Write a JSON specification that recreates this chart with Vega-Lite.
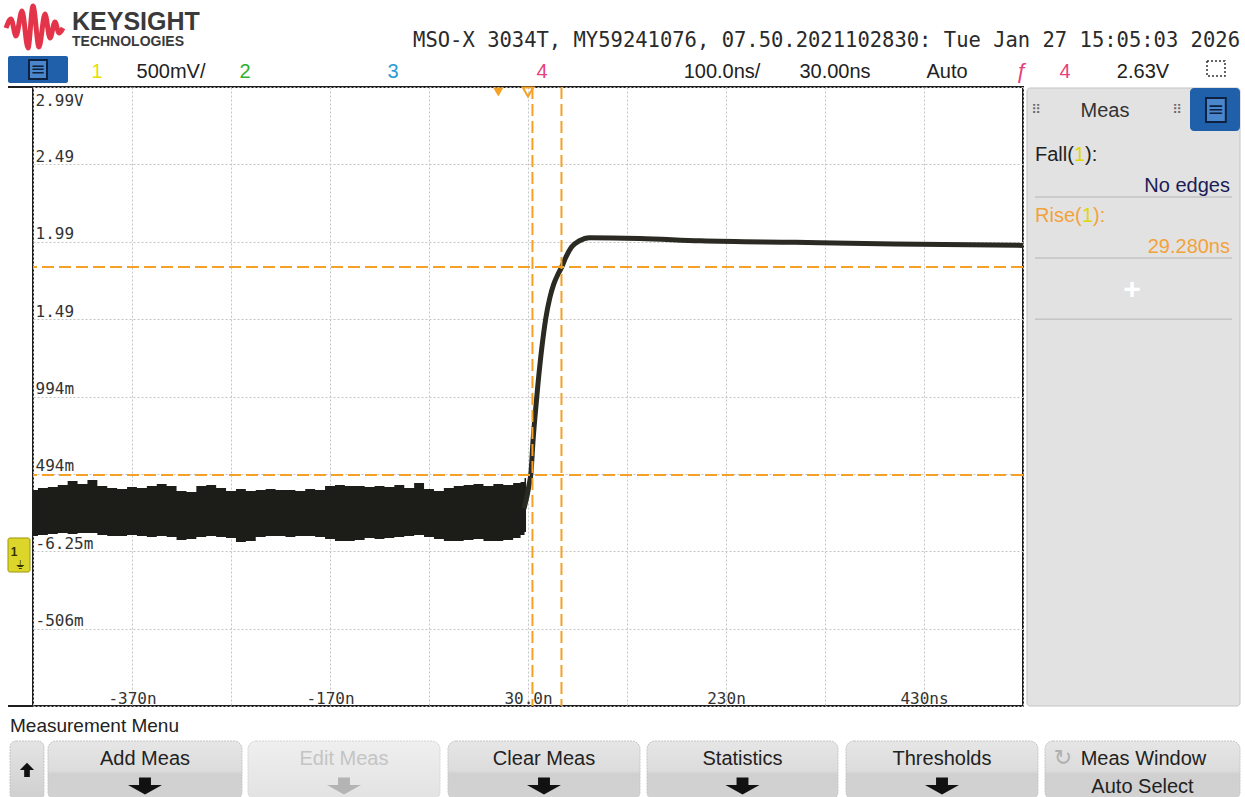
{
"$schema": "https://vega.github.io/schema/vega-lite/v6.json",
"width": 990,
"height": 619,
"autosize": {"type": "none"},
"padding": {"left": 33, "top": 87, "right": 222, "bottom": 91},
"background": "#ffffff",
"data": {"values": [{}]},
"datasets": {
"band": [
{"t":-470,"hi":0.390,"lo":0.092},{"t":-460,"hi":0.402,"lo":0.099},{"t":-450,"hi":0.409,"lo":0.105},{"t":-440,"hi":0.422,"lo":0.112},{"t":-430,"hi":0.448,"lo":0.105},{"t":-420,"hi":0.428,"lo":0.112},{"t":-410,"hi":0.454,"lo":0.112},{"t":-400,"hi":0.415,"lo":0.099},{"t":-390,"hi":0.402,"lo":0.092},{"t":-380,"hi":0.396,"lo":0.092},{"t":-370,"hi":0.409,"lo":0.099},{"t":-360,"hi":0.402,"lo":0.092},{"t":-350,"hi":0.415,"lo":0.086},{"t":-340,"hi":0.428,"lo":0.092},{"t":-330,"hi":0.415,"lo":0.086},{"t":-320,"hi":0.383,"lo":0.066},{"t":-310,"hi":0.377,"lo":0.073},{"t":-300,"hi":0.415,"lo":0.086},{"t":-290,"hi":0.422,"lo":0.092},{"t":-280,"hi":0.402,"lo":0.086},{"t":-270,"hi":0.383,"lo":0.079},{"t":-260,"hi":0.396,"lo":0.054},{"t":-250,"hi":0.383,"lo":0.060},{"t":-240,"hi":0.390,"lo":0.086},{"t":-230,"hi":0.396,"lo":0.092},{"t":-220,"hi":0.390,"lo":0.092},{"t":-210,"hi":0.390,"lo":0.086},{"t":-200,"hi":0.383,"lo":0.092},{"t":-190,"hi":0.396,"lo":0.092},{"t":-180,"hi":0.390,"lo":0.086},{"t":-170,"hi":0.415,"lo":0.073},{"t":-160,"hi":0.422,"lo":0.060},{"t":-150,"hi":0.415,"lo":0.060},{"t":-140,"hi":0.415,"lo":0.066},{"t":-130,"hi":0.409,"lo":0.079},{"t":-120,"hi":0.415,"lo":0.073},{"t":-110,"hi":0.409,"lo":0.079},{"t":-100,"hi":0.422,"lo":0.086},{"t":-90,"hi":0.402,"lo":0.092},{"t":-80,"hi":0.435,"lo":0.099},{"t":-70,"hi":0.396,"lo":0.086},{"t":-60,"hi":0.383,"lo":0.073},{"t":-50,"hi":0.402,"lo":0.060},{"t":-40,"hi":0.415,"lo":0.060},{"t":-30,"hi":0.422,"lo":0.066},{"t":-20,"hi":0.428,"lo":0.073},{"t":-10,"hi":0.415,"lo":0.060},{"t":0,"hi":0.428,"lo":0.060},{"t":10,"hi":0.422,"lo":0.066},{"t":20,"hi":0.435,"lo":0.079},{"t":25,"hi":0.441,"lo":0.099},{"t":28,"hi":0.467,"lo":0.118}
],
"trace": [
{"t":26,"v":0.27},{"t":29,"v":0.35},{"t":31,"v":0.42},{"t":33,"v":0.50},{"t":35,"v":0.70},{"t":37,"v":0.86},{"t":40,"v":1.07},{"t":44,"v":1.31},{"t":48,"v":1.50},{"t":52,"v":1.63},{"t":56,"v":1.72},{"t":60,"v":1.78},{"t":64,"v":1.83},{"t":68,"v":1.89},{"t":74,"v":1.96},{"t":82,"v":2.00},{"t":92,"v":2.02},{"t":143,"v":2.015},{"t":204,"v":2.00},{"t":300,"v":1.99},{"t":400,"v":1.98},{"t":530,"v":1.97}
],
"hcur": [{"v":0.4865},{"v":1.8306}],
"vcur": [{"t":34.5},{"t":63.8}],
"logo": [
{"t":-497.27,"v":3.375},{"t":-492.22,"v":3.4332},{"t":-487.17,"v":3.3233},{"t":-481.11,"v":3.4849},{"t":-475.05,"v":3.2458},{"t":-470.0,"v":3.5172},{"t":-463.94,"v":3.2522},{"t":-457.88,"v":3.4655},{"t":-452.83,"v":3.3104},{"t":-447.78,"v":3.4138},{"t":-443.74,"v":3.3427},{"t":-439.70,"v":3.375}
]
},
"config": {
"view": {"stroke": "#1e1e1e", "strokeWidth": 2},
"axis": {"titleOpacity": 0},
"text": {"font": "Liberation Sans", "fontSize": 20, "color": "#222222", "baseline": "alphabetic"}
},
"layer": [
{"data": {"name": "band"},
 "mark": {"type": "area", "interpolate": "step", "color": "#1c1c18"},
 "encoding": {
  "x": {"field": "t", "type": "quantitative",
   "scale": {"domain": [-470, 530], "nice": false, "zero": false},
   "axis": {"title": null, "values": [-470,-370,-270,-170,-70,30,130,230,330,430,530], "grid": true, "gridColor": "#c4c4c4", "gridDash": [2,2], "gridWidth": 1, "ticks": false, "tickSize": 0, "domain": false,
    "labelExpr": "datum.value == -370 ? '-370n' : datum.value == -170 ? '-170n' : datum.value == 30 ? '30.0n' : datum.value == 230 ? '230n' : datum.value == 430 ? '430ns' : ''",
    "labelFont": "DejaVu Sans Mono", "labelFontSize": 16, "labelColor": "#333333", "labelPadding": -8, "labelBaseline": "middle", "labelOverlap": false, "labelFlush": false, "labelBound": false}},
  "y": {"field": "hi", "type": "quantitative",
   "scale": {"domain": [-1.00625, 2.99375], "nice": false, "zero": false},
   "axis": {"title": null, "values": [-1.00625,-0.50625,-0.00625,0.49375,0.99375,1.49375,1.99375,2.49375,2.99375], "grid": true, "gridColor": "#c4c4c4", "gridDash": [2,2], "gridWidth": 1, "ticks": false, "tickSize": 0, "domain": false,
    "labelExpr": "datum.value > 2.9 ? '2.99V' : datum.value > 2.4 ? '2.49' : datum.value > 1.9 ? '1.99' : datum.value > 1.4 ? '1.49' : datum.value > 0.9 ? '994m' : datum.value > 0.4 ? '494m' : datum.value > -0.1 ? '-6.25m' : datum.value > -0.6 ? '-506m' : ''",
    "labelFont": "DejaVu Sans Mono", "labelFontSize": 16, "labelColor": "#333333", "labelAlign": "left", "labelPadding": -2,
    "labelBaseline": {"condition": {"test": "datum.value > 2.9", "value": "top"}, "value": "alphabetic"},
    "labelOffset": {"condition": {"test": "datum.value > 2.9", "value": 5}, "value": -3},
    "labelOverlap": false, "labelFlush": false, "labelBound": false}},
  "y2": {"field": "lo"}
 }},
{"data": {"name": "trace"},
 "mark": {"type": "line", "interpolate": "monotone", "color": "#2a2a22", "strokeWidth": 5},
 "encoding": {"x": {"field": "t", "type": "quantitative"}, "y": {"field": "v", "type": "quantitative"}}},
{"data": {"name": "hcur"},
 "mark": {"type": "rule", "color": "#f4a125", "strokeWidth": 2, "strokeDash": [12, 5]},
 "encoding": {"y": {"field": "v", "type": "quantitative"}}},
{"data": {"name": "vcur"},
 "mark": {"type": "rule", "color": "#f4a125", "strokeWidth": 2, "strokeDash": [12, 5]},
 "encoding": {"x": {"field": "t", "type": "quantitative"}}},
{"mark": {"type": "point", "shape": "triangle-down", "filled": true, "color": "#f4a125", "size": 110, "opacity": 1},
 "encoding": {"x": {"datum": 0}, "y": {"datum": 2.9614}}},
{"mark": {"type": "point", "shape": "triangle-down", "filled": false, "color": "#f4a125", "strokeWidth": 2, "size": 110, "opacity": 1},
 "encoding": {"x": {"datum": 30}, "y": {"datum": 2.9614}}},
{"mark": {"type": "rule", "color": "#1e1e1e", "strokeWidth": 2},
 "encoding": {"x": {"datum": -495.25}, "x2": {"datum": -470}, "y": {"datum": 2.99375}}},
{"mark": {"type": "rule", "color": "#1e1e1e", "strokeWidth": 2},
 "encoding": {"x": {"datum": -495.25}, "x2": {"datum": -470}, "y": {"datum": -1.00625}}},
{"mark": {"type": "rect", "fill": "#dcd62a", "stroke": "#9c950c", "strokeWidth": 1, "cornerRadius": 2},
 "encoding": {"x": {"datum": -495.25}, "x2": {"datum": -473.03}, "y": {"datum": 0.0794}, "y2": {"datum": -0.1404}}},
{"mark": {"type": "text", "text": "1", "fontSize": 12, "fontWeight": "bold", "align": "center", "baseline": "middle", "color": "#333300"},
 "encoding": {"x": {"datum": -489.19}, "y": {"datum": -0.0111}}},
{"mark": {"type": "text", "text": "⏚", "font": "DejaVu Sans", "fontSize": 12, "align": "center", "baseline": "middle", "color": "#333300"},
 "encoding": {"x": {"datum": -483.13}, "y": {"datum": -0.0951}}},

{"data": {"name": "logo"},
 "mark": {"type": "line", "interpolate": "monotone", "color": "#e4344a", "strokeWidth": 5},
 "encoding": {"x": {"field": "t", "type": "quantitative"}, "y": {"field": "v", "type": "quantitative"}}},
{"mark": {"type": "text", "text": "KEYSIGHT", "fontSize": 25, "fontWeight": "bold", "align": "left", "color": "#3a3a3a"},
 "encoding": {"x": {"datum": -430.61}, "y": {"datum": 3.3621}}},
{"mark": {"type": "text", "text": "TECHNOLOGIES", "fontSize": 14, "fontWeight": "bold", "align": "left", "color": "#3a3a3a"},
 "encoding": {"x": {"datum": -430.61}, "y": {"datum": 3.2587}}},
{"mark": {"type": "text", "text": "MSO-X 3034T, MY59241076, 07.50.2021102830: Tue Jan 27 15:05:03 2026", "font": "DejaVu Sans Mono", "fontSize": 20.5, "align": "right", "color": "#2a2a2a"},
 "encoding": {"x": {"datum": 749.19}, "y": {"datum": 3.2523}}},

{"mark": {"type": "rect", "fill": "#2060aa", "cornerRadius": 2},
 "encoding": {"x": {"datum": -495.25}, "x2": {"datum": -434.65}, "y": {"datum": 3.1941}, "y2": {"datum": 3.0196}}},
{"mark": {"type": "rect", "fill": "#4a86cc", "stroke": "#0d2240", "strokeWidth": 2},
 "encoding": {"x": {"datum": -474.04}, "x2": {"datum": -455.86}, "y": {"datum": 3.1682}, "y2": {"datum": 3.0455}}},
{"mark": {"type": "text", "text": "≡", "font": "DejaVu Sans", "fontSize": 18, "align": "center", "baseline": "middle", "color": "#0d2240"},
 "encoding": {"x": {"datum": -464.95}, "y": {"datum": 3.1068}}},
{"mark": {"type": "text", "text": "1", "align": "center", "color": "#e5e000"},
 "encoding": {"x": {"datum": -405.35}, "y": {"datum": 3.0519}}},
{"mark": {"type": "text", "text": "500mV/", "align": "center", "color": "#222222"},
 "encoding": {"x": {"datum": -330.61}, "y": {"datum": 3.0519}}},
{"mark": {"type": "text", "text": "2", "align": "center", "color": "#2fb02f"},
 "encoding": {"x": {"datum": -255.86}, "y": {"datum": 3.0519}}},
{"mark": {"type": "text", "text": "3", "align": "center", "color": "#2a9ad6"},
 "encoding": {"x": {"datum": -106.36}, "y": {"datum": 3.0519}}},
{"mark": {"type": "text", "text": "4", "align": "center", "color": "#e8407c"},
 "encoding": {"x": {"datum": 44.14}, "y": {"datum": 3.0519}}},
{"mark": {"type": "text", "text": "100.0ns/", "align": "center", "color": "#222222"},
 "encoding": {"x": {"datum": 225.96}, "y": {"datum": 3.0519}}},
{"mark": {"type": "text", "text": "30.00ns", "align": "center", "color": "#222222"},
 "encoding": {"x": {"datum": 340.10}, "y": {"datum": 3.0519}}},
{"mark": {"type": "text", "text": "Auto", "align": "center", "color": "#222222"},
 "encoding": {"x": {"datum": 453.23}, "y": {"datum": 3.0519}}},
{"mark": {"type": "text", "text": "ƒ", "align": "center", "color": "#e8407c", "fontSize": 22},
 "encoding": {"x": {"datum": 528.99}, "y": {"datum": 3.0519}}},
{"mark": {"type": "text", "text": "4", "align": "center", "color": "#e8407c"},
 "encoding": {"x": {"datum": 572.42}, "y": {"datum": 3.0519}}},
{"mark": {"type": "text", "text": "2.63V", "align": "center", "color": "#222222"},
 "encoding": {"x": {"datum": 651.21}, "y": {"datum": 3.0519}}},
{"mark": {"type": "rect", "filled": false, "stroke": "#333333", "strokeWidth": 1.5, "strokeDash": [2, 2]},
 "encoding": {"x": {"datum": 715.86}, "x2": {"datum": 734.04}, "y": {"datum": 3.1618}, "y2": {"datum": 3.0648}}},

{"mark": {"type": "rect", "fill": "#e2e2e2", "stroke": "#c4c4c4", "strokeWidth": 1, "cornerRadius": 3},
 "encoding": {"x": {"datum": 534.04}, "x2": {"datum": 749.19}, "y": {"datum": 2.9873}, "y2": {"datum": -1.00625}}},
{"mark": {"type": "rect", "fill": "#2060aa", "cornerRadius": 4},
 "encoding": {"x": {"datum": 698.69}, "x2": {"datum": 749.19}, "y": {"datum": 2.9873}, "y2": {"datum": 2.7094}}},
{"mark": {"type": "rect", "fill": "#4a86cc", "stroke": "#0d2240", "strokeWidth": 2},
 "encoding": {"x": {"datum": 714.85}, "x2": {"datum": 734.85}, "y": {"datum": 2.9227}, "y2": {"datum": 2.7676}}},
{"mark": {"type": "text", "text": "≡", "font": "DejaVu Sans", "fontSize": 20, "align": "center", "baseline": "middle", "color": "#0d2240"},
 "encoding": {"x": {"datum": 724.85}, "y": {"datum": 2.8451}}},
{"mark": {"type": "text", "text": "Meas", "align": "center", "color": "#333333"},
 "encoding": {"x": {"datum": 612.84}, "y": {"datum": 2.7999}}},
{"mark": {"type": "text", "text": "⠿", "font": "DejaVu Sans", "fontSize": 13, "align": "center", "baseline": "middle", "color": "#666666"},
 "encoding": {"x": {"datum": 543.13}, "y": {"datum": 2.8451}}},
{"mark": {"type": "text", "text": "⠿", "font": "DejaVu Sans", "fontSize": 13, "align": "center", "baseline": "middle", "color": "#666666"},
 "encoding": {"x": {"datum": 685.56}, "y": {"datum": 2.8451}}},
{"mark": {"type": "text", "text": "Fall(", "align": "left", "color": "#222222"},
 "encoding": {"x": {"datum": 542.12}, "y": {"datum": 2.5155}}},
{"mark": {"type": "text", "text": "1", "align": "left", "color": "#e0d800"},
 "encoding": {"x": {"datum": 581.52}, "y": {"datum": 2.5155}}},
{"mark": {"type": "text", "text": "):", "align": "left", "color": "#222222"},
 "encoding": {"x": {"datum": 592.64}, "y": {"datum": 2.5155}}},
{"mark": {"type": "text", "text": "No edges", "align": "right", "color": "#1b1b55"},
 "encoding": {"x": {"datum": 739.09}, "y": {"datum": 2.3152}}},
{"mark": {"type": "rule", "color": "#b4b4b4", "strokeWidth": 1},
 "encoding": {"x": {"datum": 542.12}, "x2": {"datum": 741.11}, "y": {"datum": 2.2829}}},
{"mark": {"type": "text", "text": "Rise(", "align": "left", "color": "#f2a23a"},
 "encoding": {"x": {"datum": 542.12}, "y": {"datum": 2.1214}}},
{"mark": {"type": "text", "text": "1", "align": "left", "color": "#e0d800"},
 "encoding": {"x": {"datum": 589.60}, "y": {"datum": 2.1214}}},
{"mark": {"type": "text", "text": "):", "align": "left", "color": "#f2a23a"},
 "encoding": {"x": {"datum": 600.72}, "y": {"datum": 2.1214}}},
{"mark": {"type": "text", "text": "29.280ns", "align": "right", "color": "#f2a23a"},
 "encoding": {"x": {"datum": 739.09}, "y": {"datum": 1.9210}}},
{"mark": {"type": "rule", "color": "#b4b4b4", "strokeWidth": 1},
 "encoding": {"x": {"datum": 542.12}, "x2": {"datum": 741.11}, "y": {"datum": 1.8887}}},
{"mark": {"type": "text", "text": "+", "fontSize": 30, "fontWeight": "bold", "align": "center", "baseline": "middle", "color": "#ffffff"},
 "encoding": {"x": {"datum": 640.10}, "y": {"datum": 1.6820}}},
{"mark": {"type": "rule", "color": "#b4b4b4", "strokeWidth": 1},
 "encoding": {"x": {"datum": 542.12}, "x2": {"datum": 741.11}, "y": {"datum": 1.4938}}},

{"mark": {"type": "text", "text": "Measurement Menu", "fontSize": 19, "align": "left", "color": "#222222"},
 "encoding": {"x": {"datum": -493.23}, "y": {"datum": -1.1743}}},
{"mark": {"type": "rect", "cornerRadius": 6, "stroke": "#c4c4c4", "strokeWidth": 1, "strokeDash": [2, 1],
  "fill": {"gradient": "linear", "x1": 0, "y1": 0, "x2": 0, "y2": 1, "stops": [{"offset": 0, "color": "#e4e4e4"}, {"offset": 1, "color": "#cfcfcf"}]}},
 "encoding": {"x": {"datum": -493.23}, "x2": {"datum": -458.89}, "y": {"datum": -1.2325}, "y2": {"datum": -1.6135}}},
{"mark": {"type": "point", "shape": "M 0 -1 L 1 0 L 0.4 0 L 0.4 1 L -0.4 1 L -0.4 0 L -1 0 Z", "filled": true, "color": "#111111", "size": 200, "opacity": 1},
 "encoding": {"x": {"datum": -476.06}, "y": {"datum": -1.4191}}},
{"mark": {"type": "rect", "cornerRadius": 8, "stroke": "#c4c4c4", "strokeWidth": 1, "strokeDash": [2, 1],
  "fill": {"gradient": "linear", "x1": 0, "y1": 0, "x2": 0, "y2": 1, "stops": [{"offset": 0, "color": "#e6e6e6"}, {"offset": 0.5, "color": "#dcdcdc"}, {"offset": 0.56, "color": "#d0d0d0"}, {"offset": 1, "color": "#d2d2d2"}]}},
 "encoding": {"x": {"datum": -454.85}, "x2": {"datum": -258.89}, "y": {"datum": -1.2325}, "y2": {"datum": -1.6135}}},
{"mark": {"type": "rect", "cornerRadius": 8, "stroke": "#d4d4d4", "strokeWidth": 1, "strokeDash": [2, 1],
  "fill": {"gradient": "linear", "x1": 0, "y1": 0, "x2": 0, "y2": 1, "stops": [{"offset": 0, "color": "#efefef"}, {"offset": 1, "color": "#e2e2e2"}]}},
 "encoding": {"x": {"datum": -252.83}, "x2": {"datum": -58.89}, "y": {"datum": -1.2325}, "y2": {"datum": -1.6135}}},
{"mark": {"type": "rect", "cornerRadius": 8, "stroke": "#c4c4c4", "strokeWidth": 1, "strokeDash": [2, 1],
  "fill": {"gradient": "linear", "x1": 0, "y1": 0, "x2": 0, "y2": 1, "stops": [{"offset": 0, "color": "#e6e6e6"}, {"offset": 0.5, "color": "#dcdcdc"}, {"offset": 0.56, "color": "#d0d0d0"}, {"offset": 1, "color": "#d2d2d2"}]}},
 "encoding": {"x": {"datum": -50.81}, "x2": {"datum": 143.13}, "y": {"datum": -1.2325}, "y2": {"datum": -1.6135}}},
{"mark": {"type": "rect", "cornerRadius": 8, "stroke": "#c4c4c4", "strokeWidth": 1, "strokeDash": [2, 1],
  "fill": {"gradient": "linear", "x1": 0, "y1": 0, "x2": 0, "y2": 1, "stops": [{"offset": 0, "color": "#e6e6e6"}, {"offset": 0.5, "color": "#dcdcdc"}, {"offset": 0.56, "color": "#d0d0d0"}, {"offset": 1, "color": "#d2d2d2"}]}},
 "encoding": {"x": {"datum": 150.20}, "x2": {"datum": 343.13}, "y": {"datum": -1.2325}, "y2": {"datum": -1.6135}}},
{"mark": {"type": "rect", "cornerRadius": 8, "stroke": "#c4c4c4", "strokeWidth": 1, "strokeDash": [2, 1],
  "fill": {"gradient": "linear", "x1": 0, "y1": 0, "x2": 0, "y2": 1, "stops": [{"offset": 0, "color": "#e6e6e6"}, {"offset": 0.5, "color": "#dcdcdc"}, {"offset": 0.56, "color": "#d0d0d0"}, {"offset": 1, "color": "#d2d2d2"}]}},
 "encoding": {"x": {"datum": 351.21}, "x2": {"datum": 545.15}, "y": {"datum": -1.2325}, "y2": {"datum": -1.6135}}},
{"mark": {"type": "rect", "cornerRadius": 8, "stroke": "#c4c4c4", "strokeWidth": 1, "strokeDash": [2, 1],
  "fill": {"gradient": "linear", "x1": 0, "y1": 0, "x2": 0, "y2": 1, "stops": [{"offset": 0, "color": "#e6e6e6"}, {"offset": 0.5, "color": "#dcdcdc"}, {"offset": 0.56, "color": "#d0d0d0"}, {"offset": 1, "color": "#d2d2d2"}]}},
 "encoding": {"x": {"datum": 552.22}, "x2": {"datum": 749.19}, "y": {"datum": -1.2325}, "y2": {"datum": -1.6135}}},
{"mark": {"type": "text", "text": "Add Meas", "align": "center", "color": "#222222"},
 "encoding": {"x": {"datum": -356.87}, "y": {"datum": -1.3868}}},
{"mark": {"type": "text", "text": "Edit Meas", "align": "center", "color": "#c4c4c4"},
 "encoding": {"x": {"datum": -155.86}, "y": {"datum": -1.3868}}},
{"mark": {"type": "text", "text": "Clear Meas", "align": "center", "color": "#222222"},
 "encoding": {"x": {"datum": 46.16}, "y": {"datum": -1.3868}}},
{"mark": {"type": "text", "text": "Statistics", "align": "center", "color": "#222222"},
 "encoding": {"x": {"datum": 246.67}, "y": {"datum": -1.3868}}},
{"mark": {"type": "text", "text": "Thresholds", "align": "center", "color": "#222222"},
 "encoding": {"x": {"datum": 448.18}, "y": {"datum": -1.3868}}},
{"mark": {"type": "text", "text": "Meas Window", "align": "center", "color": "#222222"},
 "encoding": {"x": {"datum": 651.71}, "y": {"datum": -1.3868}}},
{"mark": {"type": "text", "text": "Auto Select", "align": "center", "color": "#222222"},
 "encoding": {"x": {"datum": 650.71}, "y": {"datum": -1.5677}}},
{"mark": {"type": "text", "text": "↻", "font": "DejaVu Sans", "fontSize": 22, "align": "center", "color": "#b0b0b0"},
 "encoding": {"x": {"datum": 570.40}, "y": {"datum": -1.3868}}},
{"mark": {"type": "point", "shape": "M -0.35 -0.5 L 0.35 -0.5 L 0.35 -0.05 L 1 -0.05 L 0 0.5 L -1 -0.05 L -0.35 -0.05 Z", "filled": true, "color": "#111111", "size": 1156, "opacity": 1},
 "encoding": {"x": {"datum": -356.87}, "y": {"datum": -1.5225}}},
{"mark": {"type": "point", "shape": "M -0.35 -0.5 L 0.35 -0.5 L 0.35 -0.05 L 1 -0.05 L 0 0.5 L -1 -0.05 L -0.35 -0.05 Z", "filled": true, "color": "#b4b4b4", "size": 1156, "opacity": 1},
 "encoding": {"x": {"datum": -155.86}, "y": {"datum": -1.5225}}},
{"mark": {"type": "point", "shape": "M -0.35 -0.5 L 0.35 -0.5 L 0.35 -0.05 L 1 -0.05 L 0 0.5 L -1 -0.05 L -0.35 -0.05 Z", "filled": true, "color": "#111111", "size": 1156, "opacity": 1},
 "encoding": {"x": {"datum": 46.16}, "y": {"datum": -1.5225}}},
{"mark": {"type": "point", "shape": "M -0.35 -0.5 L 0.35 -0.5 L 0.35 -0.05 L 1 -0.05 L 0 0.5 L -1 -0.05 L -0.35 -0.05 Z", "filled": true, "color": "#111111", "size": 1156, "opacity": 1},
 "encoding": {"x": {"datum": 246.67}, "y": {"datum": -1.5225}}},
{"mark": {"type": "point", "shape": "M -0.35 -0.5 L 0.35 -0.5 L 0.35 -0.05 L 1 -0.05 L 0 0.5 L -1 -0.05 L -0.35 -0.05 Z", "filled": true, "color": "#111111", "size": 1156, "opacity": 1},
 "encoding": {"x": {"datum": 448.18}, "y": {"datum": -1.5225}}}
]
}
